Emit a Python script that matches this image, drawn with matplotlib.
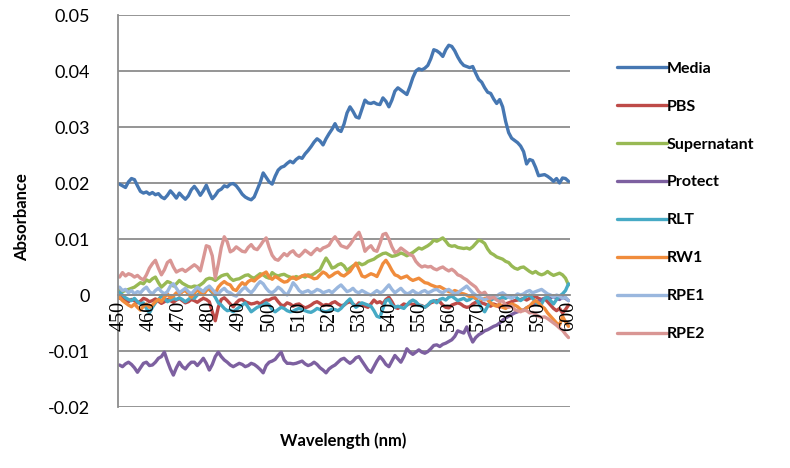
import numpy as np
import matplotlib
matplotlib.use("Agg")
import matplotlib.pyplot as plt

# Wavelength categories (nm)
wavelengths = list(range(450, 601))
tick_labels = [str(w) for w in range(450, 601, 10)]
series_names = ["Media", "PBS", "Supernatant", "Protect", "RLT", "RW1", "RPE1", "RPE2"]

# Absorbance values, in units of 1e-3
media = [19.8, 19.5, 19.2, 20.2, 20.8, 20.6, 19.5, 18.5, 18.2, 18.4,
         18.0, 18.3, 17.9, 18.1, 17.5, 17.2, 17.8, 18.6, 18.0, 17.3,
         18.2, 17.6, 17.1, 17.7, 18.8, 19.4, 18.7, 17.8, 18.6, 19.6,
         18.3, 17.2, 17.8, 18.6, 18.9, 19.5, 19.3, 19.8, 19.9, 19.5,
         18.8, 18.0, 17.5, 17.2, 17.0, 17.5, 18.8, 20.1, 21.8, 21.0,
         20.2, 19.8, 21.2, 22.3, 22.8, 23.0, 23.5, 23.9, 23.6, 24.2,
         24.6, 24.4, 25.2, 25.8, 26.5, 27.3, 27.9, 27.5, 26.8, 27.9,
         28.8, 29.6, 30.6, 29.5, 29.2, 30.5, 32.5, 33.6, 32.8, 31.8,
         31.6, 33.2, 34.8, 34.3, 34.2, 34.4, 34.1, 34.0, 35.2, 34.6,
         33.6, 34.8, 36.4, 37.0, 36.6, 36.2, 35.8, 37.2, 38.8, 40.0,
         40.4, 40.2, 40.5, 41.0, 42.2, 43.8, 43.6, 43.2, 42.6, 43.8,
         44.6, 44.4, 43.6, 42.5, 41.6, 41.0, 40.8, 40.6, 40.8, 39.6,
         38.5, 38.0, 37.0, 36.2, 36.0, 35.0, 34.2, 34.9, 33.6, 31.0,
         29.0, 28.0, 27.6, 27.2, 26.6, 25.6, 23.4, 24.2, 24.0, 22.8,
         21.3, 21.4, 21.5, 21.2, 20.8, 20.3, 20.8, 20.0, 20.9, 20.8,
         20.3]

pbs = [-0.6, -0.4, -0.9, -1.2, -0.8, -1.0, -1.4, -1.1, -0.6, -0.8,
       -1.2, -1.0, -0.7, -1.1, -1.5, -1.2, -0.8, -1.0, -1.3, -0.9,
       -0.6, -1.0, -1.4, -1.2, -0.8, -1.0, -1.3, -0.9, -0.6, -0.8,
       -1.2, -3.0, -4.6, -2.2, -0.8, -0.5, -1.0, -1.6, -2.1, -1.4,
       -0.9, -0.8, -1.2, -1.4, -1.6, -1.5, -1.3, -1.6, -1.2, -0.9,
       -0.9, -0.6, -0.5, -1.2, -1.8, -1.9, -1.4, -1.6, -2.0, -1.7,
       -1.6, -2.0, -2.3, -2.1, -1.8, -1.4, -1.2, -1.5, -1.9, -1.7,
       -1.8, -1.4, -1.2, -1.6, -1.9, -1.8, -1.4, -1.2, -1.6, -2.0,
       -1.4, -1.6, -2.0, -2.2, -1.6, -0.9, -1.4, -1.2, -1.6, -0.8,
       -0.4, -1.2, -2.2, -2.4, -2.0, -1.6, -1.8, -1.5, -1.7, -1.6,
       -1.8, -1.9, -2.2, -1.8, -1.4, -1.2, -1.0, -1.2, -1.8, -2.2,
       -2.3, -1.8, -1.6, -1.4, -1.6, -2.0, -2.2, -2.1, -1.6, -1.3,
       -1.2, -1.4, -1.6, -1.8, -2.0, -1.6, -1.8, -2.2, -1.9, -1.6,
       -1.4, -1.2, -1.0, -0.9, -0.8, -0.6, -0.9, -0.6, -0.4, -0.3,
       -0.6, -0.8, -0.6, -1.2, -1.8, -2.4, -2.8, -2.4, -3.2, -2.6,
       -1.8]

supernatant = [1.0, 0.6, 0.8, 1.0, 1.2, 1.4, 1.8, 2.2, 2.0, 2.7,
               2.4, 2.9, 3.2, 2.2, 1.4, 1.9, 2.4, 2.2, 1.6, 2.0,
               2.6, 2.1, 1.8, 1.5, 1.4, 1.6, 1.5, 1.8, 2.2, 2.8,
               3.0, 2.9, 2.6, 3.0, 3.4, 3.6, 3.7, 3.0, 2.6, 2.8,
               2.9, 3.2, 3.5, 3.6, 3.2, 3.0, 3.4, 3.8, 3.6, 3.2,
               3.0, 4.0, 3.6, 3.4, 3.6, 3.7, 3.4, 3.2, 3.0, 3.3,
               3.1, 3.4, 3.2, 3.6, 3.5, 3.8, 4.2, 4.5, 5.6, 6.6,
               5.8, 4.8, 5.0, 5.4, 5.6, 5.2, 4.4, 4.8, 5.2, 5.5,
               5.7, 5.4, 5.6, 6.0, 6.2, 6.4, 6.8, 7.1, 7.4, 7.5,
               7.2, 6.9, 7.0, 7.2, 7.5, 7.3, 7.0, 7.3, 7.6, 8.0,
               8.4, 8.2, 8.5, 8.8, 9.2, 9.8, 9.6, 9.9, 10.2, 9.6,
               8.9, 8.7, 8.8, 8.5, 8.4, 8.3, 8.4, 8.2, 8.6, 9.2,
               9.8, 9.6, 9.2, 8.2, 7.5, 7.2, 6.8, 6.6, 6.4, 6.0,
               5.8, 5.2, 4.8, 4.6, 4.9, 5.0, 4.6, 4.2, 3.9, 4.2,
               3.8, 3.6, 3.8, 4.2, 3.8, 3.5, 3.7, 3.9, 3.6, 3.0,
               1.8]

protect = [-12.5, -12.8, -12.3, -12.0, -12.4, -13.0, -13.8, -13.0, -12.2, -12.0,
           -12.6, -12.5, -12.0, -11.3, -11.0, -10.2, -11.8, -13.2, -14.3, -13.0,
           -12.0, -12.8, -13.2, -12.5, -12.0, -12.0, -12.6, -12.0, -11.3, -12.2,
           -13.4, -12.4, -11.0, -10.2, -11.0, -11.6, -12.0, -12.5, -12.8, -12.5,
           -12.2, -12.4, -12.8, -12.6, -12.2, -12.4, -12.8, -13.3, -13.9, -12.6,
           -12.0, -11.8, -11.5, -10.8, -10.2, -11.6, -12.2, -12.2, -12.3, -12.2,
           -12.0, -11.8, -12.3, -12.6, -12.4, -12.0, -12.4, -13.0, -13.4, -13.9,
           -13.2, -12.8, -12.5, -12.0, -11.5, -11.3, -11.8, -12.2, -11.8, -11.2,
           -11.0, -11.8, -12.6, -13.4, -13.8, -12.8, -11.8, -11.0, -11.6, -12.4,
           -12.8, -11.8, -10.8, -11.4, -12.0, -11.0, -9.6, -10.2, -10.6, -10.2,
           -9.8, -10.2, -10.4, -10.1, -9.6, -9.0, -8.9, -9.2, -8.8, -8.6,
           -8.3, -8.0, -7.4, -6.4, -6.6, -6.8, -5.7, -7.2, -8.4, -7.6,
           -7.1, -6.8, -6.4, -6.2, -5.9, -5.6, -5.4, -5.0, -4.5, -4.1,
           -3.8, -3.5, -3.2, -3.0, -2.8, -2.7, -2.3, -2.0, -1.8, -1.4,
           -1.1, -0.9, -0.6, -0.5, -0.5, -0.3, -0.6, -0.8, -0.4, -0.6,
           -1.0]

rlt = [0.5, 0.0, -0.5, -0.8, -1.0, -0.6, -1.2, -1.6, -1.4, -2.4,
       -3.2, -2.2, -1.4, -0.8, -0.2, -0.6, -1.2, -0.9, -0.6, -0.8,
       -0.5, -0.8, -1.2, -0.8, -0.4, -0.6, 0.0, 0.4, 0.6, 1.2,
       1.0, 0.4, -0.4, -1.4, -1.8, -2.4, -2.8, -2.7, -3.0, -2.6,
       -2.2, -1.8, -1.4, -2.2, -3.0, -2.6, -2.2, -2.0, -1.8, -1.4,
       -1.8, -2.6, -3.0, -2.6, -2.2, -2.4, -2.8, -3.0, -2.9, -2.6,
       -2.4, -2.6, -2.8, -3.0, -3.1, -2.8, -2.4, -2.6, -2.9, -3.0,
       -2.8, -2.5, -2.6, -2.8, -2.4, -1.8, -1.2, -0.7, -1.6, -2.2,
       -1.8, -1.4, -1.6, -1.8, -2.0, -2.8, -3.8, -4.0, -2.4, -1.0,
       -0.8, -1.8, -2.2, -2.0, -2.2, -2.4, -1.8, -1.2, -0.9, -1.2,
       -1.8, -2.0, -2.2, -1.8, -1.2, -1.0, -1.4, -0.8, -0.6, -0.9,
       -0.4, -0.2, -0.6, -1.0, -0.8, -0.6, -1.0, -0.8, -0.4, -0.6,
       -1.4, -2.4, -3.0, -2.0, -1.0, -0.6, -0.8, -0.7, -0.4, -0.6,
       -0.2, -0.4, -0.2, -0.6, -1.0, -0.6, -0.2, 0.0, -0.6, -1.2,
       -1.8, -1.6, -0.6, -0.4, -1.0, -1.6, -0.8, -0.2, 0.2, 0.8,
       2.0]

rw1 = [-0.4, -1.0, -1.4, -1.8, -2.1, -1.6, -2.2, -2.7, -2.0, -1.6,
       -2.2, -1.8, -1.2, -0.8, -1.2, -0.4, 0.2, -0.5, -0.2, 0.4,
       0.0, 0.6, 0.8, 0.2, -0.4, 0.3, 1.0, 0.4, 0.0, 0.8,
       1.2, 0.6, 0.2, 1.4, 2.0, 2.4, 2.0, 1.8, 1.0, 0.8,
       1.6, 2.2, 1.8, 2.4, 2.7, 2.5, 3.0, 3.4, 3.8, 4.1,
       3.2, 2.8, 3.3, 3.0, 2.6, 2.3, 2.4, 2.9, 3.2, 2.8,
       3.1, 3.4, 3.6, 3.4, 3.2, 2.9, 3.0, 3.6, 4.1, 3.8,
       3.2, 3.5, 3.9, 4.1, 3.6, 3.4, 3.8, 4.2, 5.0, 5.7,
       4.6, 3.4, 3.2, 3.5, 3.8, 3.6, 3.3, 4.4, 5.6, 6.2,
       5.4, 4.4, 3.6, 3.4, 3.0, 3.2, 3.4, 2.9, 2.6, 2.8,
       3.0, 2.6, 2.2, 2.1, 1.8, 1.6, 1.4, 1.5, 1.2, 0.9,
       0.6, 0.5, 0.8, 0.6, 0.3, 0.2, 0.0, -0.3, -0.2, -0.6,
       -0.4, -0.8, -0.6, -0.9, -1.4, -1.8, -2.0, -1.6, -2.2, -2.4,
       -2.0, -1.6, -1.8, -2.1, -2.6, -2.8, -2.3, -2.0, -1.4, -1.0,
       -1.4, -2.0, -2.4, -3.2, -3.8, -4.4, -5.0, -5.4, -3.8, -4.8,
       -5.6]

rpe1 = [1.4, 0.8, 1.0, 0.4, 0.8, 0.2, 0.6, 0.4, 1.0, 1.4,
        0.6, 0.2, 0.8, 1.2, 0.6, 0.2, 0.6, 1.6, 2.0, 1.2,
        0.4, 0.8, 1.2, 0.6, 0.2, 0.8, 1.4, 1.0, 0.6, 1.2,
        1.6, 1.0, 0.4, 0.2, 0.8, 1.2, 0.6, 0.4, 0.0, -0.2,
        0.4, 1.0, 1.4, 0.8, 0.4, 1.0, 1.8, 2.4, 2.0, 1.2,
        0.6, 0.4, 0.8, 1.4, 1.0, 0.4, 0.0, 1.0, 2.2, 1.6,
        0.8, 0.4, 0.6, 0.8, 0.4, 0.6, 1.0, 0.8, 0.4, 0.6,
        0.8, 0.4, 0.9, 1.4, 1.8, 1.2, 0.6, 0.8, 1.2, 0.6,
        0.4, 0.8, 0.5, 0.2, 0.0, 0.4, 0.8, 0.4, 0.6, 1.2,
        1.8, 1.0, 0.4, 0.8, 1.2, 0.6, 0.2, 0.4, 0.8, 0.4,
        0.2, 0.6, 0.8, 0.4, 0.6, 0.9, 1.0, 0.6, 0.4, 0.8,
        1.0, 0.6, 0.2, 0.4, 0.8, 1.2, 1.6, 1.0, 0.4, 0.0,
        -0.4, -0.6, -0.9, -0.6, -0.2, -0.4, -0.2, 0.2, 0.4, 0.0,
        -0.4, -0.6, -0.2, 0.2, 0.0, 0.2, 0.6, 0.8, 0.4, 0.6,
        0.8, 1.0, 0.6, 0.2, 0.0, -0.4, 0.0, -0.2, -0.6, -0.4,
        -1.0]

rpe2 = [3.2, 4.0, 3.4, 3.8, 3.6, 3.2, 3.5, 3.0, 2.7, 3.6,
        4.8, 5.6, 6.2, 4.8, 3.6, 4.5, 5.8, 6.2, 5.0, 4.1,
        4.4, 4.6, 4.2, 4.6, 5.0, 5.4, 5.0, 4.3, 6.5, 8.8,
        8.6, 7.0, 3.0, 5.5, 8.5, 10.4, 9.5, 7.7, 8.0, 8.6,
        8.2, 7.8, 7.7, 8.5, 9.0, 8.3, 8.1, 8.8, 9.6, 10.2,
        8.5, 7.1, 6.4, 6.2, 6.8, 7.4, 7.0, 7.6, 7.9, 7.2,
        6.9, 7.4, 8.0, 7.6, 7.2, 7.8, 8.3, 7.9, 8.4, 8.6,
        8.9, 9.8, 10.4, 9.6, 8.8, 8.6, 8.4, 9.0, 9.8, 10.6,
        11.2, 9.8, 7.8, 8.4, 8.8, 8.0, 7.8, 9.2, 10.8, 11.0,
        10.0, 8.6, 7.6, 7.8, 8.4, 8.0, 7.6, 7.2, 7.0, 6.0,
        5.4, 5.0, 5.2, 5.0, 5.1, 4.7, 4.5, 4.8, 5.0, 4.6,
        4.3, 4.6, 4.2, 3.6, 3.4, 3.0, 2.7, 2.2, 1.8, 1.4,
        0.6, 0.2, 0.5, -0.3, -0.6, -0.4, -0.9, -1.2, -1.0, -1.8,
        -2.2, -2.0, -2.6, -2.8, -3.0, -2.7, -2.8, -3.2, -3.1, -3.5,
        -3.8, -4.0, -3.9, -4.2, -4.6, -5.0, -5.4, -5.9, -6.3, -7.0,
        -7.6]

SCALE = 1e-3
all_series = [media, pbs, supernatant, protect, rlt, rw1, rpe1, rpe2]
colors = ["#4677B2", "#BE4B48", "#98B954", "#7D60A0", "#46AAC5", "#F08C3C", "#9AB7DE", "#D99694"]
y_ticks = [-0.02, -0.01, 0.0, 0.01, 0.02, 0.03, 0.04, 0.05]
y_tick_labels = ["-0.02", "-0.01", "0", "0.01", "0.02", "0.03", "0.04", "0.05"]

fig = plt.figure(figsize=(7.9, 4.68), dpi=100)
ax = fig.add_axes([118 / 790, 1 - 407 / 468, 452 / 790, 392 / 468])

# category axis crosses the value axis at 0 (set before tick labels, since it resets ticks)
ax.spines["bottom"].set_position(("data", 0))

GRID = "#8C8C8C"
# horizontal gridlines below the data lines
for yv in y_ticks:
    ax.axhline(yv, color=GRID, lw=1.3, zorder=0.5)

for name, vals, c in zip(series_names, all_series, colors):
    ax.plot(wavelengths, np.array(vals) * SCALE, color=c, lw=2.4, label=name,
            solid_joinstyle="round", solid_capstyle="round", zorder=2)

ax.set_xlim(449.5, 600.5)
ax.set_ylim(-0.02, 0.05)
ax.set_yticks(y_ticks)
ax.set_yticklabels(y_tick_labels, fontsize=13, family="Lato")

ax.set_xticks(range(450, 601, 10))
ax.set_xticklabels(tick_labels, rotation=90, fontsize=14.5, family="Liberation Serif",
                   color="black")
ax.spines["bottom"].set_color(GRID)
ax.spines["bottom"].set_linewidth(1.3)
ax.spines["top"].set_visible(False)
ax.spines["right"].set_visible(False)
ax.spines["left"].set_color(GRID)
ax.spines["left"].set_linewidth(1.3)
ax.tick_params(axis="x", length=0, pad=4)
ax.tick_params(axis="y", length=0, pad=20)
ax.set_axisbelow(False)
ax.xaxis.set_zorder(5)  # category labels drawn over the lines

fig.text(22 / 790, 1 - 217 / 468, "Absorbance", rotation=90, ha="center", va="center",
         fontsize=12, fontweight="bold", family="Lato")
fig.text(343 / 790, 1 - 441 / 468, "Wavelength (nm)", ha="center", va="center",
         fontsize=12, fontweight="bold", family="Lato")

leg = fig.legend(loc="upper left", bbox_to_anchor=(603 / 790, 1 - 47 / 468), frameon=False,
                 prop={"family": "Lato", "weight": "bold", "size": 11.5},
                 handlelength=3.1, handletextpad=0.0, labelspacing=1.49)
for line in leg.get_lines():
    line.set_linewidth(2.4)

fig.savefig("out.png", dpi=100)
